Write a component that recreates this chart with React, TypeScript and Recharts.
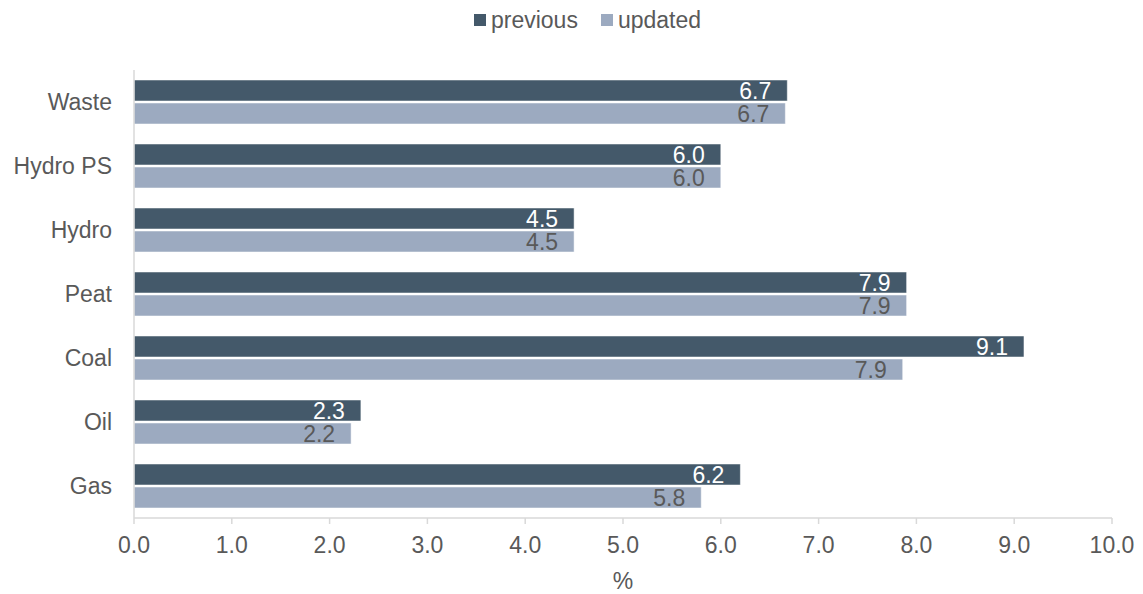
import { Bar, BarChart, LabelList, XAxis, YAxis } from 'recharts'

const categories = ['Waste', 'Hydro PS', 'Hydro', 'Peat', 'Coal', 'Oil', 'Gas']
const previous = [6.68, 6.0, 4.5, 7.9, 9.1, 2.32, 6.2]
const updated = [6.66, 6.0, 4.5, 7.9, 7.86, 2.22, 5.8]
const xTicks = [0, 1, 2, 3, 4, 5, 6, 7, 8, 9, 10]
const seriesNames = ['previous', 'updated']

const FONT = '"Liberation Sans", Arial, sans-serif'
const DARK = '#44596A'
const LIGHT = '#9CAAC0'
const TEXT = '#595959'
const AXIS = '#D9D9D9'
const FS = 23

const data = categories.map((name, i) => ({ name, previous: previous[i], updated: updated[i] }))

function endLabel(color: string) {
  return (props: any) => {
    const { x, y, width, height, value } = props
    return (
      <text
        x={x + width - 16}
        y={y + height / 2}
        dy={8}
        textAnchor="end"
        fill={color}
        fontSize={FS}
        fontFamily={FONT}
      >
        {Number(value).toFixed(1)}
      </text>
    )
  }
}

function TopLegend() {
  const colors = [DARK, LIGHT]
  return (
    <div
      style={{
        position: 'absolute',
        top: 6,
        left: 16,
        width: 1143,
        display: 'flex',
        justifyContent: 'center',
        gap: 23,
        fontFamily: FONT,
        fontSize: FS,
        color: TEXT,
        lineHeight: '28px',
      }}
    >
      {seriesNames.map((name, i) => (
        <div key={name} style={{ display: 'flex', alignItems: 'center', gap: 5 }}>
          <span style={{ width: 12, height: 12, background: colors[i], display: 'inline-block' }} />
          <span>{name}</span>
        </div>
      ))}
    </div>
  )
}

export default function App() {
  return (
    <div style={{ position: 'absolute', left: 0, top: 0, width: 1143, height: 594, background: '#fff' }}>
      <TopLegend />
      <BarChart
        width={1143}
        height={594}
        data={data}
        layout="vertical"
        margin={{ top: 70, right: 31, left: 14, bottom: 5 }}
        barGap={2}
        barSize={21}
      >
        <XAxis
          type="number"
          domain={[0, 10]}
          ticks={xTicks}
          tickFormatter={(v) => Number(v).toFixed(1)}
          tick={{ fill: TEXT, fontSize: FS, fontFamily: FONT, dy: 11 }}
          axisLine={{ stroke: AXIS, strokeWidth: 1.5 }}
          tickLine={{ stroke: AXIS, strokeWidth: 1.5 }}
          tickSize={6}
          height={71}
          label={{ value: '%', position: 'insideBottom', offset: 0, fill: TEXT, fontSize: FS, fontFamily: FONT }}
        />
        <YAxis
          type="category"
          dataKey="name"
          width={120}
          tick={{ fill: TEXT, fontSize: FS, fontFamily: FONT }}
          axisLine={{ stroke: AXIS, strokeWidth: 1.5 }}
          tickLine={false}
          tickMargin={16}
        />
        <Bar dataKey="previous" fill={DARK} stroke="#fff" strokeWidth={0.5} isAnimationActive={false}>
          <LabelList dataKey="previous" content={endLabel('#FFFFFF')} />
        </Bar>
        <Bar dataKey="updated" fill={LIGHT} stroke="#fff" strokeWidth={0.5} isAnimationActive={false}>
          <LabelList dataKey="updated" content={endLabel(TEXT)} />
        </Bar>
      </BarChart>
    </div>
  )
}
